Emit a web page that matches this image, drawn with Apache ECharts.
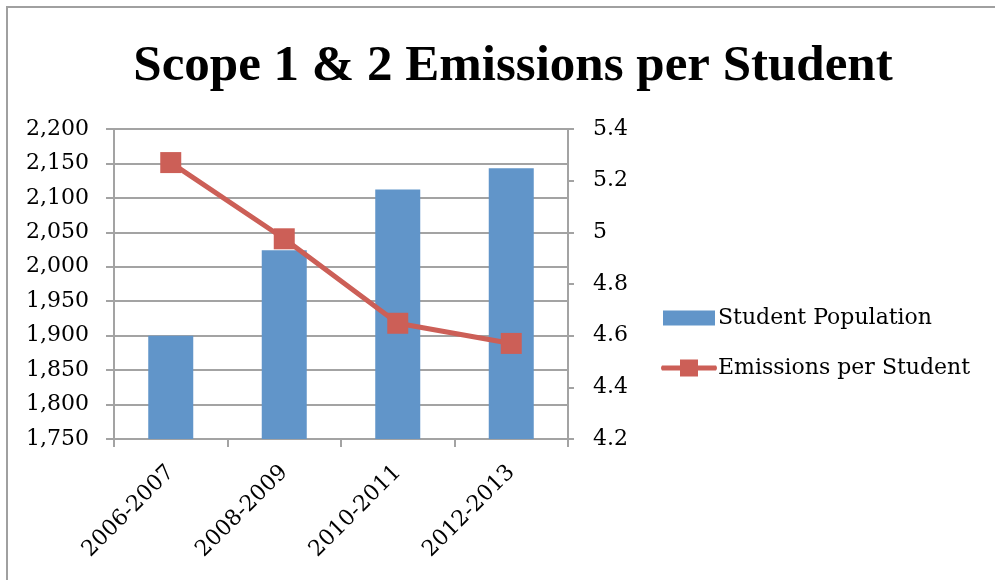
<!DOCTYPE html>
<html>
<head>
<meta charset="utf-8">
<script src="https://cdn.jsdelivr.net/npm/echarts@6/dist/echarts.min.js"></script>
<style>
  html, body { margin: 0; padding: 0; background: #ffffff; }
  #chart { width: 995px; height: 580px; }
</style>
</head>
<body>
<div id="chart"></div>
<script>
// Academic years on the category axis
const years = ['2006-2007', '2008-2009', '2010-2011', '2012-2013'];
// Enrolled students per year (left axis)
const studentPopulation = [1900, 2024, 2112, 2143];
// Scope 1 & 2 emissions per student (right axis)
const emissionsPerStudent = [5.27, 4.975, 4.648, 4.57];

const serif = 'DejaVu Serif';
const gridGray = '#a3a3a3';
const barBlue = '#6195C9';
const lineRed = '#CC5F57';

// Legend glyph for the line series: thick stroke with a square marker on it
const lineLegendIcon = 'path://M2,6 L56,6 Q58,8.5 56,11 L2,11 Q0,8.5 2,6 Z M20,0 L38,0 L38,17 L20,17 Z';

const chart = echarts.init(document.getElementById('chart'), null, { renderer: 'canvas' });

chart.setOption({
  backgroundColor: '#ffffff',
  animation: false,
  graphic: [{
    type: 'rect',
    shape: { x: 7, y: 7, width: 1000, height: 600 },
    style: { fill: 'none', stroke: '#a0a0a0', lineWidth: 2 },
    silent: true
  }],
  title: {
    text: 'Scope 1 & 2 Emissions per Student',
    left: 508,
    textAlign: 'center',
    top: 36,
    textStyle: {
      fontFamily: 'Liberation Serif',
      fontWeight: 'bold',
      fontSize: 51,
      color: '#000000'
    }
  },
  legend: {
    orient: 'vertical',
    left: 656,
    top: 302,
    itemGap: 28,
    itemWidth: 56,
    itemHeight: 17,
    textStyle: { fontFamily: serif, fontSize: 22, color: '#000000', padding: [0, 0, 0, -4] },
    data: [
      { name: 'Student Population', icon: 'path://M2,1 L54,1 L54,16 L2,16 Z M0,0 L0,0 M56,17 L56,17' },
      { name: 'Emissions per Student', icon: lineLegendIcon }
    ]
  },
  grid: { left: 114, right: 427, top: 129, bottom: 141 },
  xAxis: {
    type: 'category',
    data: years,
    boundaryGap: true,
    axisLine: { lineStyle: { color: gridGray, width: 2 } },
    axisTick: { show: true, length: 8, lineStyle: { color: gridGray, width: 2 } },
    axisLabel: {
      rotate: 45,
      margin: 30,
      fontFamily: serif,
      fontSize: 22,
      color: '#000000'
    }
  },
  yAxis: [
    {
      type: 'value',
      min: 1750,
      max: 2200,
      interval: 50,
      axisLine: { show: true, lineStyle: { color: gridGray, width: 2 } },
      axisTick: { show: true, length: 8, lineStyle: { color: gridGray, width: 2 } },
      splitLine: { show: true, lineStyle: { color: gridGray, width: 2 } },
      axisLabel: {
        margin: 25,
        fontFamily: serif,
        fontSize: 22,
        color: '#000000',
        formatter: v => v.toLocaleString('en-US')
      }
    },
    {
      type: 'value',
      min: 4.2,
      max: 5.4,
      interval: 0.2,
      position: 'right',
      axisLine: { show: true, lineStyle: { color: gridGray, width: 2 } },
      axisTick: { show: true, length: 6, lineStyle: { color: gridGray, width: 2 } },
      splitLine: { show: false },
      axisLabel: {
        margin: 25,
        fontFamily: serif,
        fontSize: 22,
        color: '#000000',
        formatter: v => String(parseFloat(v.toFixed(1)))
      }
    }
  ],
  series: [
    {
      name: 'Student Population',
      type: 'bar',
      yAxisIndex: 0,
      data: studentPopulation,
      barWidth: 45,
      itemStyle: { color: barBlue },
      z: 2
    },
    {
      name: 'Emissions per Student',
      type: 'line',
      yAxisIndex: 1,
      data: emissionsPerStudent,
      symbol: 'rect',
      symbolSize: 21,
      lineStyle: { color: lineRed, width: 5 },
      itemStyle: { color: lineRed },
      z: 3
    }
  ]
});
</script>
</body>
</html>
